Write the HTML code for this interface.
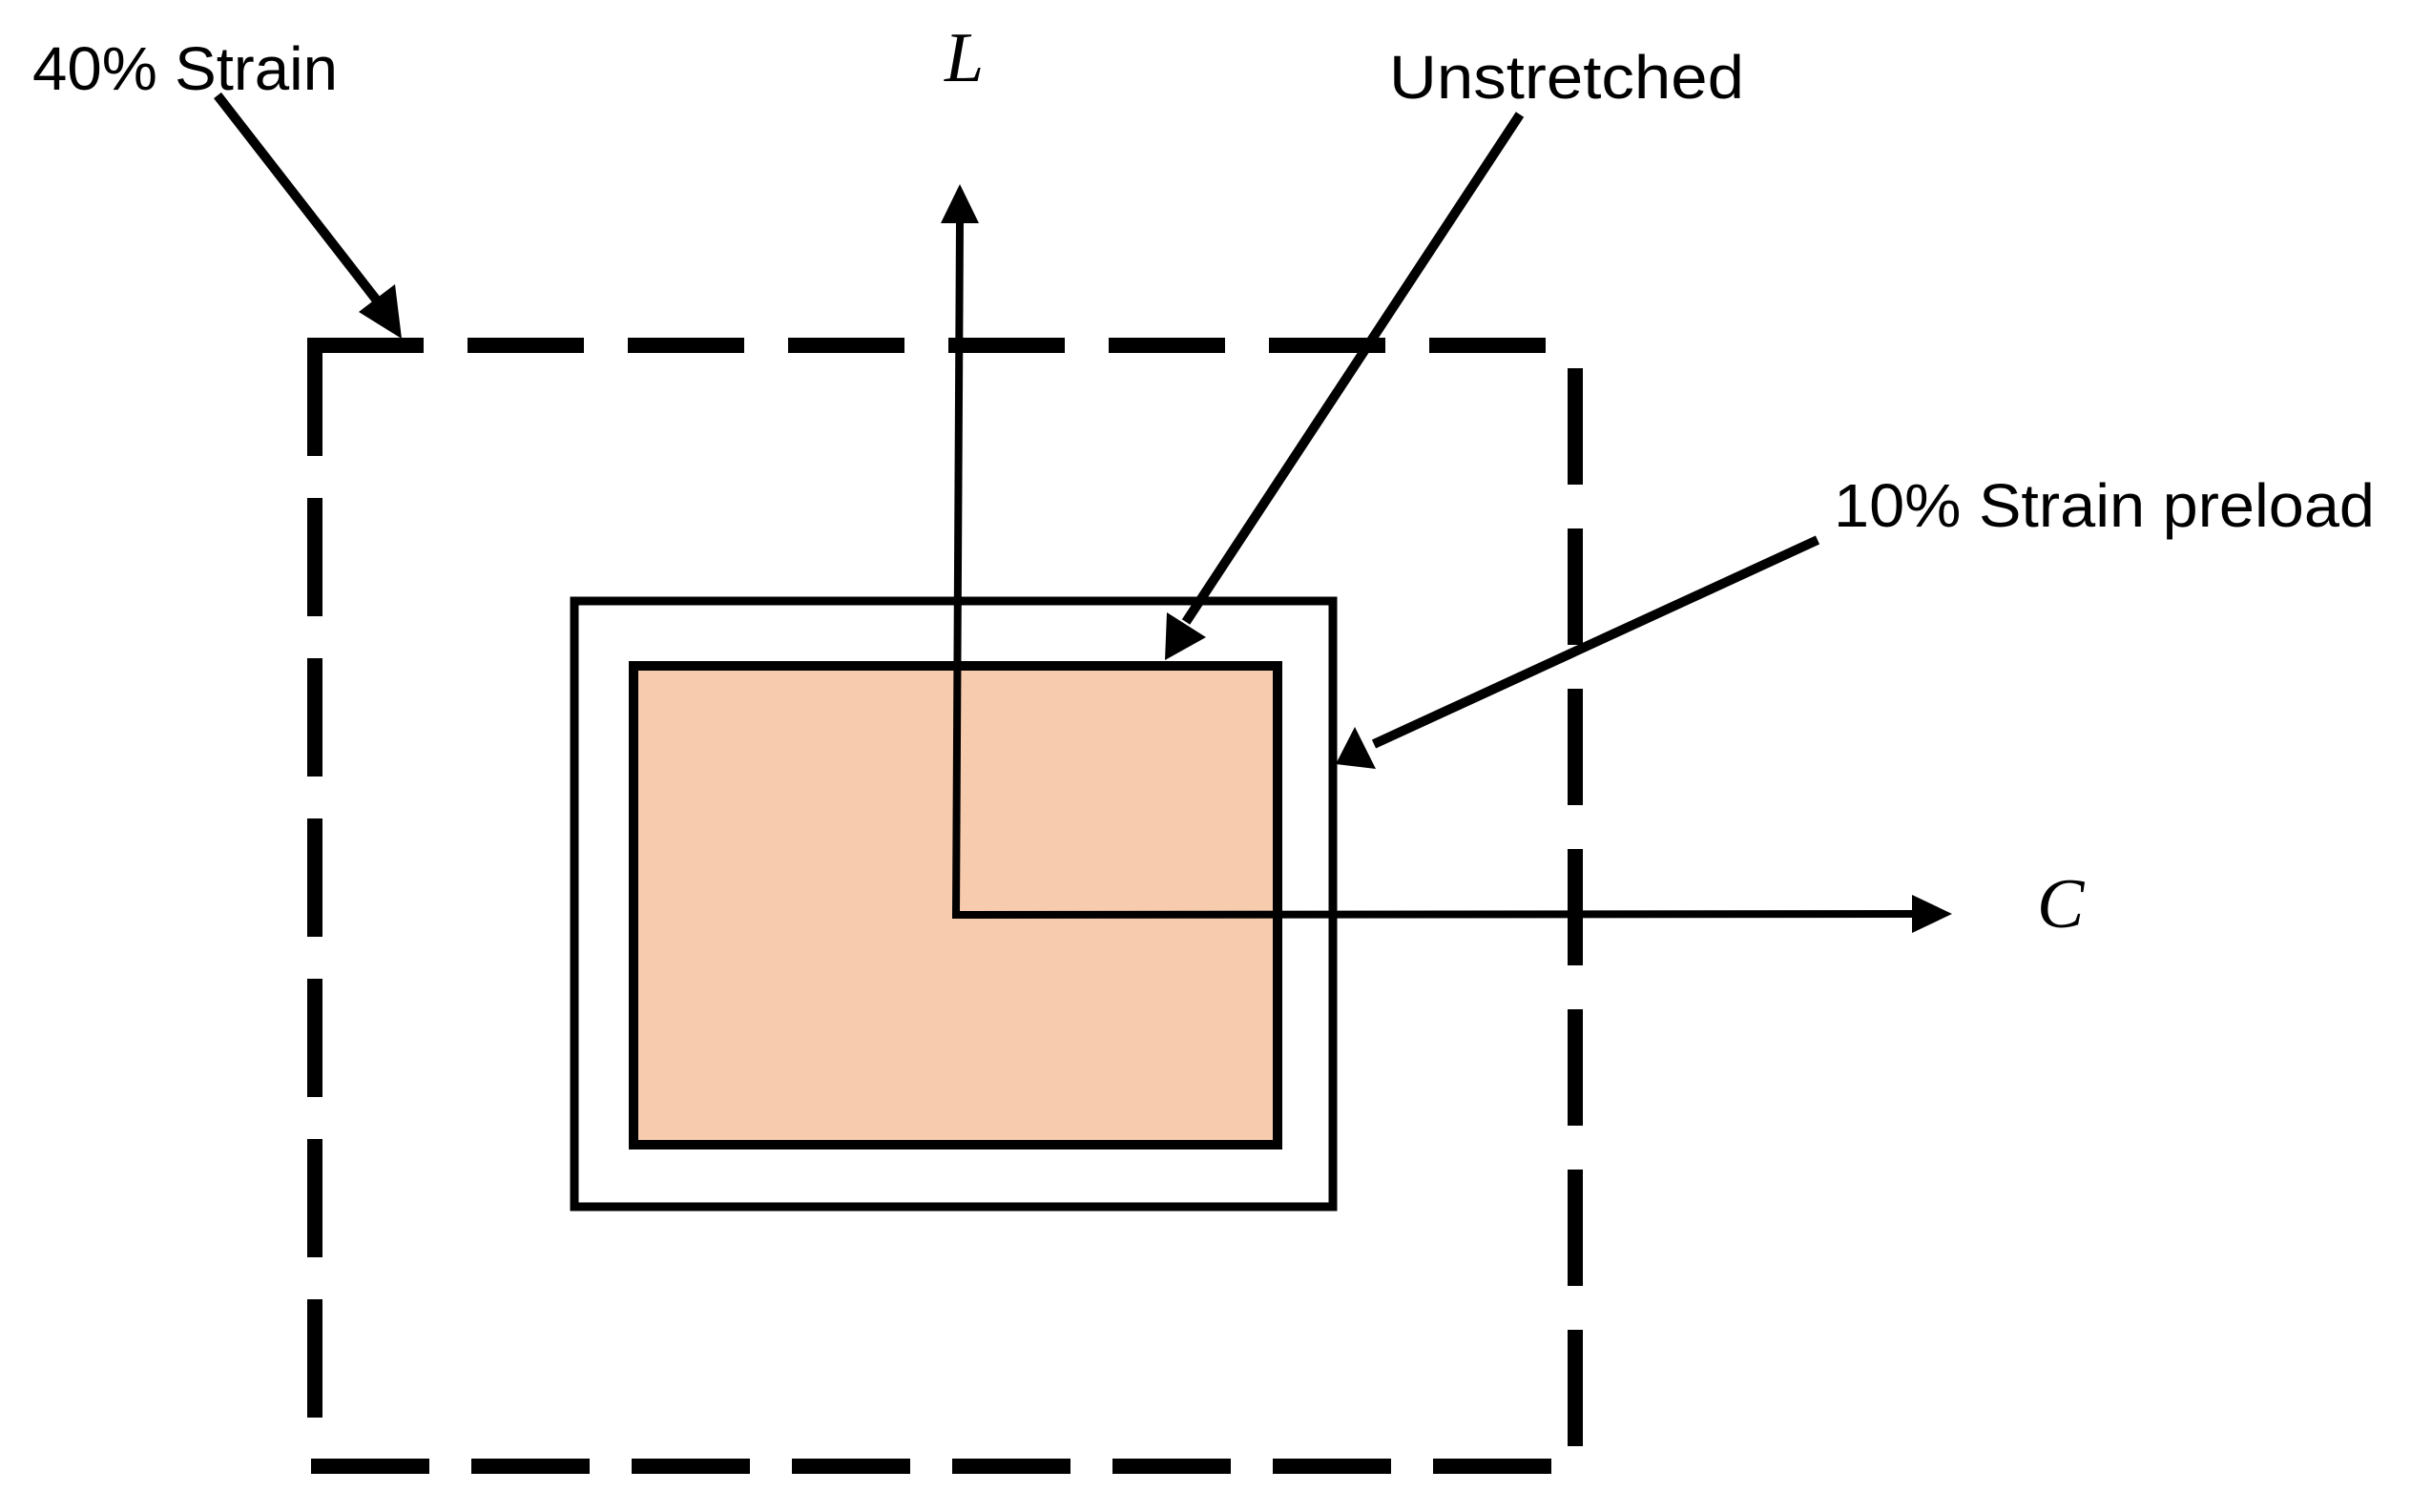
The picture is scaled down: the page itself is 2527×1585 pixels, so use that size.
<!DOCTYPE html>
<html><head><meta charset="utf-8"><style>
html,body{margin:0;padding:0;background:#fff;}
svg{display:block;}
</style></head><body>
<svg width="2527" height="1585" viewBox="0 0 2527 1585" xmlns="http://www.w3.org/2000/svg">
<rect width="2527" height="1585" fill="#fff"/>
<g stroke="#000" stroke-width="16" fill="none" stroke-dasharray="122 46">
<line x1="322" y1="362" x2="1630" y2="362"/>
<line x1="330" y1="354" x2="330" y2="1490" stroke-dasharray="124 44" />
<line x1="326" y1="1537" x2="1628" y2="1537" stroke-dasharray="124 44"/>
<line x1="1651" y1="386" x2="1651" y2="1517" stroke-dasharray="122 46"/>
</g>
<rect x="602" y="630" width="795" height="635" fill="#fff" stroke="#000" stroke-width="9"/>
<rect x="664" y="698" width="675" height="502" fill="#F7CBAE" stroke="#000" stroke-width="10"/>
<g stroke="#000" stroke-width="8" fill="none">
<polyline points="1006,232 1002,959 2006,958"/>
</g>
<polygon points="1006,193 986,234 1026,234" fill="#000"/>
<polygon points="2046,958 2004,938 2004,978" fill="#000"/>
<g stroke="#000" stroke-width="10" fill="none">
<line x1="228" y1="100" x2="395" y2="315"/>
<line x1="1593" y1="120" x2="1243" y2="652"/>
<line x1="1905" y1="566" x2="1440" y2="780"/>
</g>
<polygon points="421,355 376,327 414,298" fill="#000"/>
<polygon points="1221,692 1223,642 1264,668" fill="#000"/>
<polygon points="1400,801 1420,762 1442,806" fill="#000"/>
<g font-family="'Liberation Sans', sans-serif" font-size="64" fill="#000">
<text x="34" y="94" textLength="320" lengthAdjust="spacingAndGlyphs">40% Strain</text>
<text x="1456" y="103" textLength="372" lengthAdjust="spacingAndGlyphs">Unstretched</text>
<text x="1922" y="552" textLength="567" lengthAdjust="spacingAndGlyphs">10% Strain preload</text>
</g>
<g font-family="'Liberation Serif', serif" font-style="italic" font-size="74" fill="#000">
<text x="990" y="85">L</text>
<text x="2135" y="972">C</text>
</g>
</svg>
</body></html>
